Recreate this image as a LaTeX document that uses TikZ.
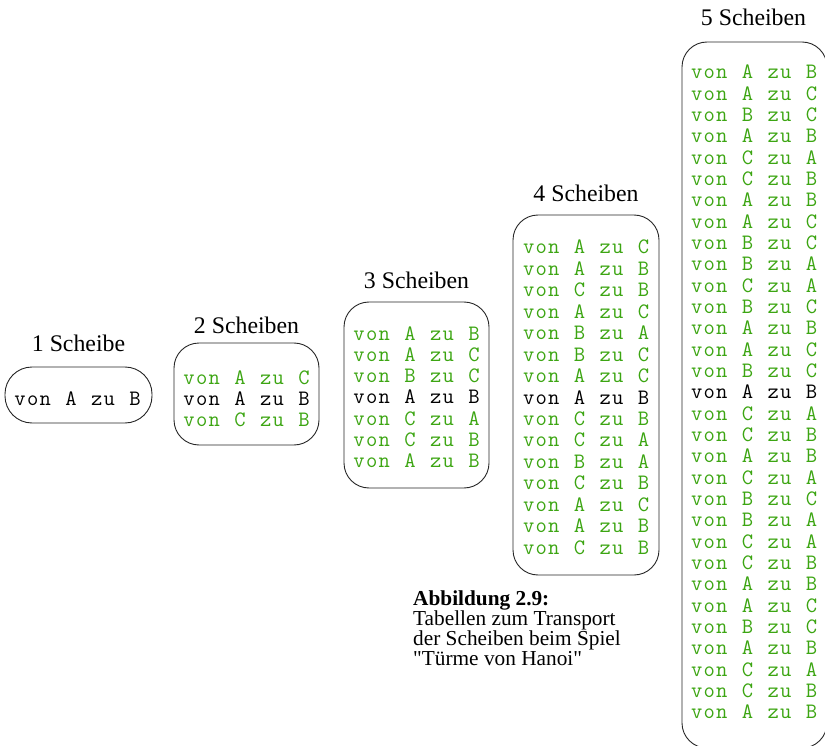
\documentclass[tikz,border=0pt]{standalone}
\usepackage{fontspec}
\setmainfont{Liberation Serif}
\newfontfamily\hmono[LetterSpace=5.5]{Latin Modern Mono}
\definecolor{hgreen}{RGB}{60,165,18}
% one move: name, x centre, baseline y, from, to, colour
\newcommand\hzug[6]{%
  \node[hline,text=#6] (#1-v) at ({#2-44.8},{#3}) {von};
  \node[hline,text=#6] (#1-f) at ({#2-6.4},{#3}) {#4};
  \node[hline,text=#6] (#1-z) at ({#2+25.6},{#3}) {zu};
  \node[hline,text=#6] (#1-t) at ({#2+57.6},{#3}) {#5};}
\tikzset{
 hbox/.style={draw=black!85, line width=0.9pt, rounded corners=25pt, inner sep=0pt},
 hline/.style={font=\hmono\fontsize{22}{21}\selectfont, inner sep=0pt, anchor=base},
 htitle/.style={font=\fontsize{23.8}{26}\selectfont, inner sep=0pt, anchor=base},
 hcap/.style={font=\fontsize{21.3}{19.7}\selectfont, inner sep=0pt, anchor=base west, align=left},
}
\begin{document}
\begin{tikzpicture}[x=1pt,y=-1pt]
\clip (0,0) rectangle (825,746);
% boxes
\node[hbox, rounded corners=27pt, minimum width=147pt, minimum height=56pt] (b1) at (78.5,395) {};
\node[hbox, minimum width=145pt, minimum height=102pt] (b2) at (246.5,394) {};
\node[hbox, minimum width=145pt, minimum height=186pt] (b3) at (416.5,395) {};
\node[hbox, minimum width=146pt, minimum height=360pt] (b4) at (586,395) {};
\node[hbox, minimum width=145pt, minimum height=706pt] (b5) at (754.5,395) {};
% titles
\node[htitle] (t1) at (78.5,351) {1 Scheibe};
\node[htitle] (t2) at (246.5,334) {2 Scheiben};
\node[htitle] (t3) at (416.5,289) {3 Scheiben};
\node[htitle] (t4) at (586,202) {4 Scheiben};
\node[htitle] (t5) at (753.5,26) {5 Scheiben};
% moves
\hzug{b1l1}{77.5}{405}{A}{B}{black}
\foreach \a/\b/\c [count=\i] in {A/C/hgreen, A/B/black, C/B/hgreen}
  {\hzug{b2l\i}{246.5}{384+(\i-1)*21}{\a}{\b}{\c}}
\foreach \a/\b/\c [count=\i] in {A/B/hgreen, A/C/hgreen, B/C/hgreen, A/B/black, C/A/hgreen, C/B/hgreen, A/B/hgreen}
  {\hzug{b3l\i}{416.5}{340+(\i-1)*21.33}{\a}{\b}{\c}}
\foreach \a/\b/\c [count=\i] in {A/C/hgreen, A/B/hgreen, C/B/hgreen, A/C/hgreen, B/A/hgreen, B/C/hgreen, A/C/hgreen, A/B/black, C/B/hgreen, C/A/hgreen, B/A/hgreen, C/B/hgreen, A/C/hgreen, A/B/hgreen, C/B/hgreen}
  {\hzug{b4l\i}{586}{254+(\i-1)*21.43}{\a}{\b}{\c}}
\foreach \a/\b/\c [count=\i] in {A/B/hgreen, A/C/hgreen, B/C/hgreen, A/B/hgreen, C/A/hgreen, C/B/hgreen, A/B/hgreen, A/C/hgreen, B/C/hgreen, B/A/hgreen, C/A/hgreen, B/C/hgreen, A/B/hgreen, A/C/hgreen, B/C/hgreen, A/B/black, C/A/hgreen, C/B/hgreen, A/B/hgreen, C/A/hgreen, B/C/hgreen, B/A/hgreen, C/A/hgreen, C/B/hgreen, A/B/hgreen, A/C/hgreen, B/C/hgreen, A/B/hgreen, C/A/hgreen, C/B/hgreen, A/B/hgreen}
  {\hzug{b5l\i}{754}{79+(\i-1)*21.33}{\a}{\b}{\c}}
% caption
\node[hcap] (cap) at (413,665) {\textbf{Abbildung 2.9:}\\Tabellen zum Transport\\der Scheiben beim Spiel\\\textquotedbl Türme von Hanoi\textquotedbl};
\end{tikzpicture}
\end{document}
